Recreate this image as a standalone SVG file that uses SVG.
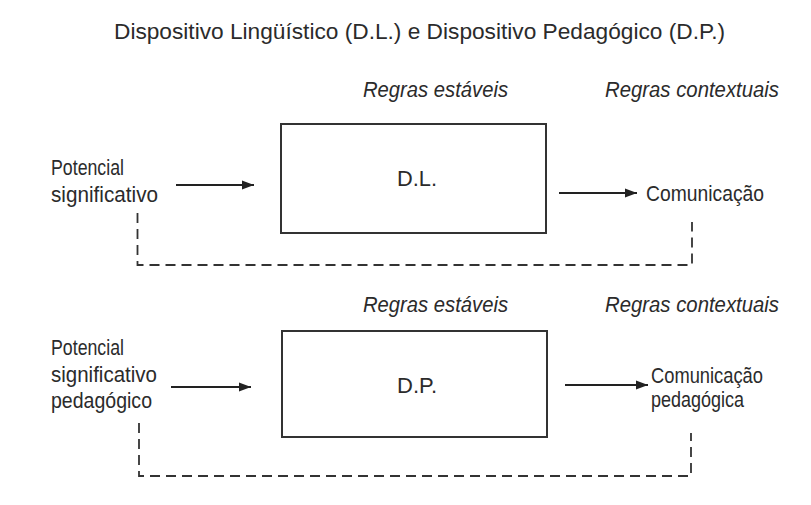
<svg xmlns="http://www.w3.org/2000/svg" width="811" height="505" viewBox="0 0 811 505">
  <defs>
    <style>
      text { font-family: "Liberation Sans", Arial, sans-serif; fill: #2b2b2b; font-size: 22px; }
      .it { font-style: italic; }
      .box { fill: none; stroke: #333; stroke-width: 2; }
      .arr { fill: none; stroke: #222; stroke-width: 1.8; }
      .dash { fill: none; stroke: #333; stroke-width: 1.8; stroke-dasharray: 10 6; }
    </style>
    <marker id="ah" viewBox="0 0 12 10" refX="12" refY="5" markerWidth="12" markerHeight="10" markerUnits="userSpaceOnUse" orient="auto">
      <path d="M0,0.5 L12,5 L0,9.5 Z" fill="#222"/>
    </marker>
  </defs>
  <rect width="811" height="505" fill="#ffffff"/>

  <g id="title">
    <text x="114" y="39" font-size="23" textLength="611" lengthAdjust="spacingAndGlyphs">Dispositivo Lingüístico (D.L.) e Dispositivo Pedagógico (D.P.)</text>
  </g>

  <!-- Top diagram -->
  <g id="label-estaveis-1">
    <text class="it" x="363" y="97" textLength="145" lengthAdjust="spacingAndGlyphs">Regras estáveis</text>
  </g>
  <g id="label-contextuais-1">
    <text class="it" x="605" y="97" textLength="174" lengthAdjust="spacingAndGlyphs">Regras contextuais</text>
  </g>
  <g id="potencial-1">
    <text x="51" y="175" textLength="73" lengthAdjust="spacingAndGlyphs">Potencial</text>
    <text x="51" y="202" textLength="107" lengthAdjust="spacingAndGlyphs">significativo</text>
  </g>
  <g id="dl">
    <rect class="box" x="281" y="124" width="265" height="109"/>
    <text x="397" y="186" textLength="40" lengthAdjust="spacingAndGlyphs">D.L.</text>
  </g>
  <g id="comunicacao-1">
    <text x="646" y="201" textLength="118" lengthAdjust="spacingAndGlyphs">Comunicação</text>
  </g>

  <!-- Bottom diagram -->
  <g id="label-estaveis-2">
    <text class="it" x="363" y="312" textLength="145" lengthAdjust="spacingAndGlyphs">Regras estáveis</text>
  </g>
  <g id="label-contextuais-2">
    <text class="it" x="605" y="312" textLength="174" lengthAdjust="spacingAndGlyphs">Regras contextuais</text>
  </g>
  <g id="potencial-2">
    <text x="51" y="355" textLength="73" lengthAdjust="spacingAndGlyphs">Potencial</text>
    <text x="51" y="382" textLength="106" lengthAdjust="spacingAndGlyphs">significativo</text>
    <text x="51" y="408" textLength="101" lengthAdjust="spacingAndGlyphs">pedagógico</text>
  </g>
  <g id="dp">
    <rect class="box" x="282" y="331" width="265" height="106"/>
    <text x="397" y="393" textLength="40" lengthAdjust="spacingAndGlyphs">D.P.</text>
  </g>
  <g id="comunicacao-2">
    <text x="651" y="383" textLength="112" lengthAdjust="spacingAndGlyphs">Comunicação</text>
    <text x="651" y="407" textLength="93" lengthAdjust="spacingAndGlyphs">pedagógica</text>
  </g>

  <g id="connectors">
    <line class="arr" x1="176" y1="185" x2="254" y2="185" marker-end="url(#ah)"/>
    <line class="arr" x1="559" y1="193" x2="637" y2="193" marker-end="url(#ah)"/>
    <path class="dash" d="M137.5,213 V265 H692 V222"/>
    <line class="arr" x1="171" y1="387" x2="251" y2="387" marker-end="url(#ah)"/>
    <line class="arr" x1="565" y1="385" x2="648" y2="385" marker-end="url(#ah)"/>
    <path class="dash" d="M139,423 V476 H691 V433"/>
  </g>
</svg>
